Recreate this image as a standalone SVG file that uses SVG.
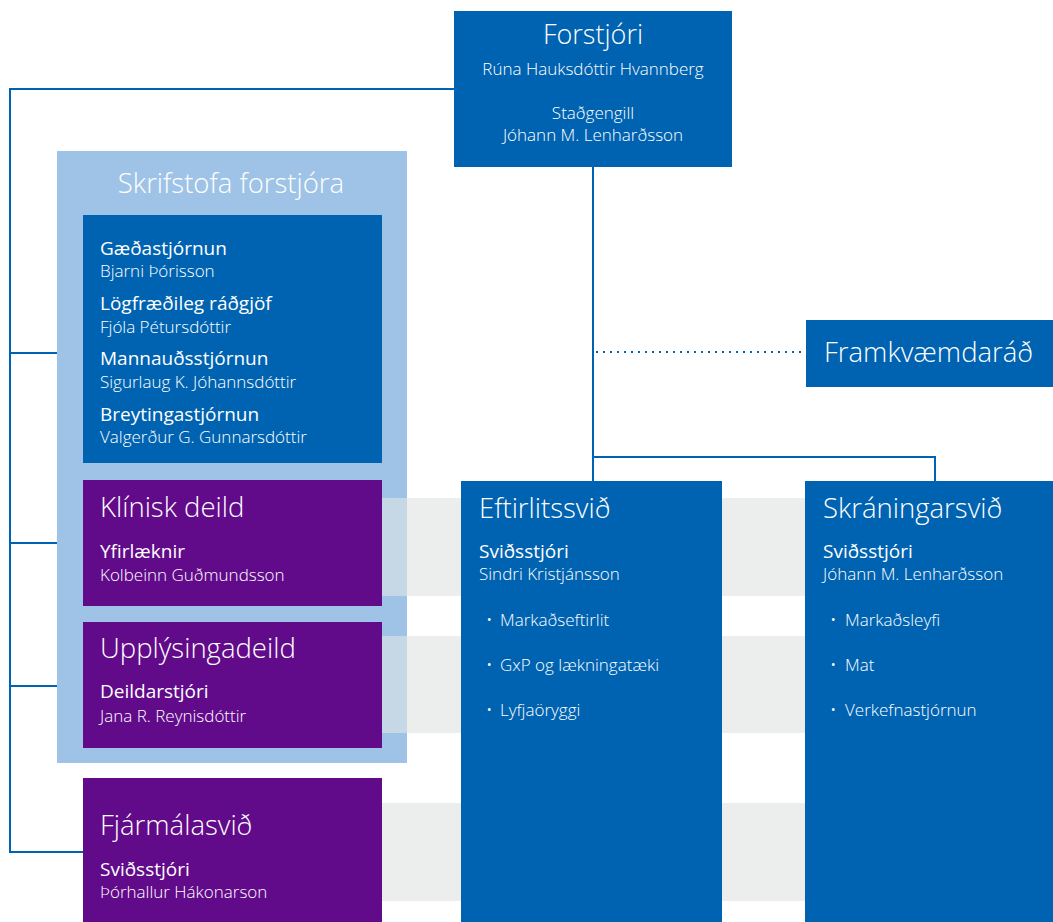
<svg xmlns="http://www.w3.org/2000/svg" width="1053" height="922" viewBox="0 0 1053 922">
<style>
.blue{fill:#0063b1}
.purple{fill:#610b8b}
.lb{fill:#9ec3e6}
.band{fill:#eceeed}
.conn{stroke:#0063b1;stroke-width:2;fill:none}
.dot{stroke:#0063b1;stroke-width:2;fill:none;stroke-dasharray:2 5}
text{font-family:"Open Sans","Noto Sans",sans-serif;fill:#ffffff}
.t{font-size:27.5px;font-weight:300}
.h{font-size:19px}
.s{font-size:17px;font-weight:300}
.m{text-anchor:middle}
</style>
<rect width="1053" height="922" fill="#ffffff"/>
<g id="bands">
<rect class="band" x="382" y="498" width="671" height="98"/>
<rect class="band" x="382" y="636" width="671" height="97"/>
<rect class="band" x="382" y="803" width="671" height="98"/>
</g>
<g id="connectors">
<polyline class="conn" points="454,89 10,89 10,852 83,852"/>
<line class="conn" x1="10" y1="353" x2="83" y2="353"/>
<line class="conn" x1="10" y1="543" x2="83" y2="543"/>
<line class="conn" x1="10" y1="686" x2="83" y2="686"/>
<line class="conn" x1="593" y1="167" x2="593" y2="481"/>
<polyline class="conn" points="593,457 935,457 935,481"/>
<line class="dot" x1="596" y1="352" x2="806" y2="352"/>
</g>
<g id="forstjori">
<rect class="blue" x="454" y="11" width="278" height="156"/>
<text class="t m" x="593" y="44" style="font-size:27px">Forstjóri</text>
<text class="s m" x="593" y="75">Rúna Hauksdóttir Hvannberg</text>
<text class="s m" x="593" y="119">Staðgengill</text>
<text class="s m" x="593" y="141">Jóhann M. Lenharðsson</text>
</g>
<g id="skrifstofa">
<rect class="lb" x="57" y="151" width="350" height="612"/>
<rect x="382" y="498" width="25" height="98" fill="#c6d7e6"/>
<rect x="382" y="636" width="25" height="97" fill="#c6d7e6"/>
<text class="t m" x="231" y="193">Skrifstofa forstjóra</text>
</g>
<g id="stodsvid">
<rect class="blue" x="83" y="215" width="299" height="248"/>
<text class="h" x="100" y="255">Gæðastjórnun</text>
<text class="s" x="100" y="277">Bjarni Þórisson</text>
<text class="h" x="100" y="310">Lögfræðileg ráðgjöf</text>
<text class="s" x="100" y="333">Fjóla Pétursdóttir</text>
<text class="h" x="100" y="365">Mannauðsstjórnun</text>
<text class="s" x="100" y="388">Sigurlaug K. Jóhannsdóttir</text>
<text class="h" x="100" y="421">Breytingastjórnun</text>
<text class="s" x="100" y="443">Valgerður G. Gunnarsdóttir</text>
</g>
<g id="klinisk">
<rect class="purple" x="83" y="480" width="299" height="126"/>
<text class="t" x="100" y="517">Klínisk deild</text>
<text class="h" x="100" y="558">Yfirlæknir</text>
<text class="s" x="100" y="581">Kolbeinn Guðmundsson</text>
</g>
<g id="upplysinga">
<rect class="purple" x="83" y="622" width="299" height="126"/>
<text class="t" x="100" y="658">Upplýsingadeild</text>
<text class="h" x="100" y="698">Deildarstjóri</text>
<text class="s" x="100" y="722">Jana R. Reynisdóttir</text>
</g>
<g id="fjarmala">
<rect class="purple" x="83" y="778" width="299" height="144"/>
<text class="t" x="100" y="835">Fjármálasvið</text>
<text class="h" x="100" y="876">Sviðsstjóri</text>
<text class="s" x="100" y="898">Þórhallur Hákonarson</text>
</g>
<g id="framkvaemdarad">
<rect class="blue" x="806" y="320" width="247" height="67"/>
<text class="t" x="824" y="362">Framkvæmdaráð</text>
</g>
<g id="eftirlit">
<rect class="blue" x="461" y="481" width="261" height="441"/>
<text class="t" x="479" y="518">Eftirlitssvið</text>
<text class="h" x="479" y="558">Sviðsstjóri</text>
<text class="s" x="479" y="580">Sindri Kristjánsson</text>
<text class="s" x="486" y="626">•</text><text class="s" x="500" y="626">Markaðseftirlit</text>
<text class="s" x="486" y="671">•</text><text class="s" x="500" y="671">GxP og lækningatæki</text>
<text class="s" x="486" y="716">•</text><text class="s" x="500" y="716">Lyfjaöryggi</text>
</g>
<g id="skraning">
<rect class="blue" x="805" y="481" width="248" height="441"/>
<text class="t" x="823" y="518">Skráningarsvið</text>
<text class="h" x="823" y="558">Sviðsstjóri</text>
<text class="s" x="823" y="580">Jóhann M. Lenharðsson</text>
<text class="s" x="830" y="626">•</text><text class="s" x="845" y="626">Markaðsleyfi</text>
<text class="s" x="830" y="671">•</text><text class="s" x="845" y="671">Mat</text>
<text class="s" x="830" y="716">•</text><text class="s" x="845" y="716">Verkefnastjórnun</text>
</g>
</svg>
